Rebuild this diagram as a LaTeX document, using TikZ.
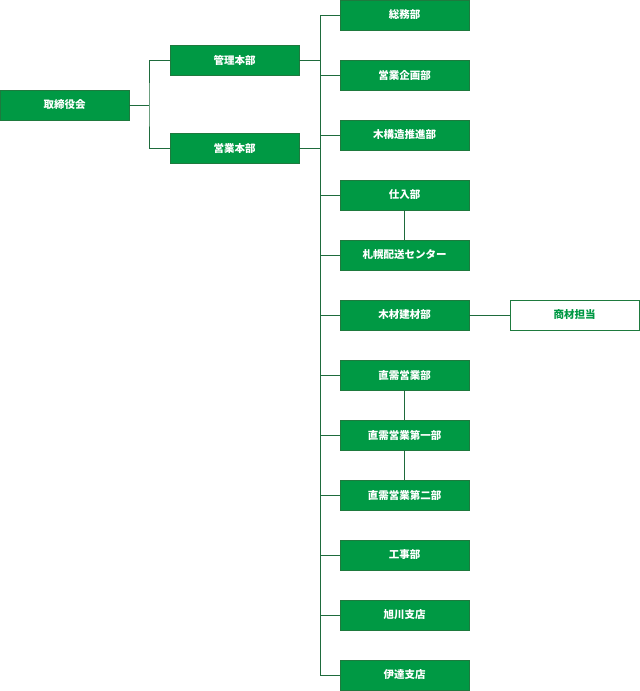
\documentclass[tikz,border=0pt]{standalone}
\usepackage{fontspec}
\setmainfont{Noto Sans CJK JP}
\definecolor{boxgreen}{HTML}{009944}
\definecolor{edgegreen}{HTML}{1E7A3E}
\definecolor{linegreen}{HTML}{1E6B3C}
\tikzset{
  dept/.style={draw=edgegreen, fill=boxgreen, text=white, minimum width=129pt, minimum height=30pt, inner sep=0pt, font=\fontsize{10.5pt}{12pt}\selectfont\bfseries},
  duty/.style={draw=edgegreen, fill=white, text=boxgreen, minimum width=129pt, minimum height=30pt, inner sep=0pt, font=\fontsize{10.5pt}{12pt}\selectfont\bfseries},
  link/.style={draw=linegreen, line width=0.9pt}
}
\begin{document}
\begin{tikzpicture}[x=1pt, y=-1pt]
    \useasboundingbox (0,0) rectangle (640,691);

    % Board and headquarters
    \node[dept] (board) at (64.5,105) {取締役会};
    \node[dept] (admin) at (234.5,60) {管理本部};
    \node[dept] (sales) at (234.5,148) {営業本部};

    % Departments
    \node[dept] (soumu)   at (404.5,15)  {総務部};
    \node[dept] (kikaku)  at (404.5,75)  {営業企画部};
    \node[dept] (mokkou)  at (404.5,135) {木構造推進部};
    \node[dept] (shiire)  at (404.5,195) {仕入部};
    \node[dept] (haisou)  at (404.5,255) {札幌配送センター};
    \node[dept] (kenzai)  at (404.5,315) {木材建材部};
    \node[dept] (chokuju) at (404.5,375) {直需営業部};
    \node[dept] (daiichi) at (404.5,435) {直需営業第一部};
    \node[dept] (daini)   at (404.5,495) {直需営業第二部};
    \node[dept] (kouji)   at (404.5,555) {工事部};
    \node[dept] (asahi)   at (404.5,615) {旭川支店};
    \node[dept] (date)    at (404.5,675) {伊達支店};
    \node[duty] (shozai)  at (574.5,315) {商材担当};

    % Trunk lines
    \coordinate (j1) at (149,105);
    \coordinate (j2) at (320,60);
    \draw[link] (board.east) -- (j1);
    \draw[link] (admin.west) -| (j1) |- (sales.west);
    \draw[link] (admin.east) -- (j2);
    \draw[link] (sales.east) -- (320,148);
    \draw[link] (320,15) -- (320,675);

    % Branches
    \foreach \n in {soumu,kikaku,mokkou,shiire,haisou,kenzai,chokuju,daiichi,daini,kouji,asahi,date}
        \draw[link] (320,0 |- \n.west) -- (\n.west);

    % Sub links
    \draw[link] (shiire) -- (haisou);
    \draw[link] (chokuju) -- (daiichi);
    \draw[link] (daiichi) -- (daini);
    \draw[link] (kenzai) -- (shozai);
\end{tikzpicture}
\end{document}
